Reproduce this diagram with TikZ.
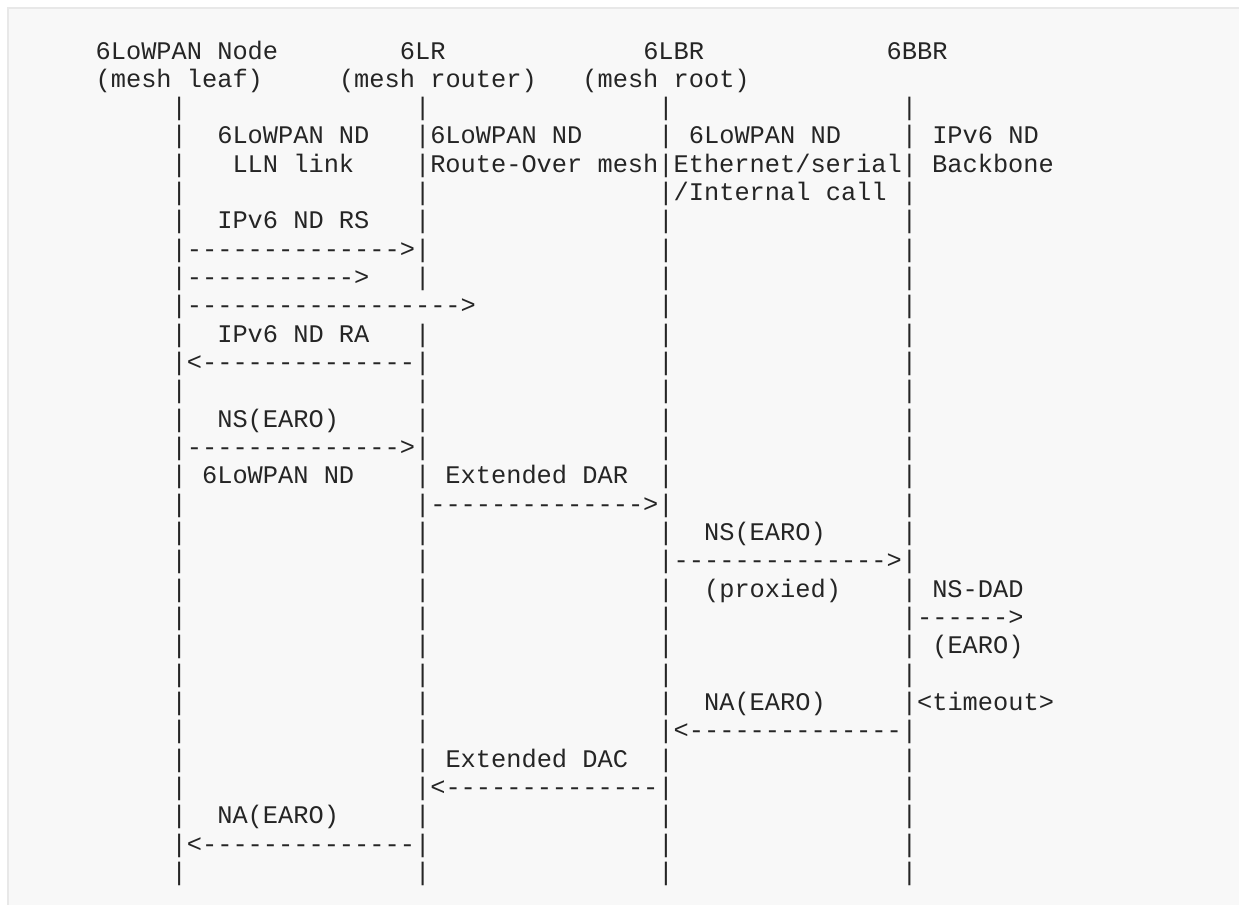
\documentclass[tikz,border=0pt]{standalone}
\usepackage{fontspec}
\setmonofont{Liberation Mono}
\ExplSyntaxOn
\cs_new_protected:Npn \gp #1 { \prg_replicate:nn {#1} { \nobreakspace } }
\ExplSyntaxOff
\definecolor{ink}{HTML}{252525}
\definecolor{boxbg}{HTML}{F8F8F8}
\definecolor{boxline}{HTML}{E8E8E8}
\tikzset{
  arow/.style={anchor=base west, inner sep=0pt, outer sep=0pt, text=ink,
    font=\ttfamily\fontsize{25.35pt}{28.33pt}\selectfont},
}
\newcommand\R[3]{\node[arow] (r#1) at ({50+15.21*#2}, {59+28.33*#1}) {#3};}
\begin{document}
\begin{tikzpicture}[x=1pt,y=-1pt]
\useasboundingbox (0,0) rectangle (1239,905);
\fill[white] (0,0) rectangle (1239,905);
\fill[boxbg] (8,8) rectangle (1239,905);
\draw[boxline, line width=2pt] (8,905) -- (8,8) -- (1239,8);
\R{0}{3}{6LoWPAN Node\gp{8}6LR\gp{13}6LBR\gp{12}6BBR}
\R{1}{3}{(mesh leaf)\gp{5}(mesh router)\gp{3}(mesh root)}
\R{2}{8}{|\gp{15}|\gp{15}|\gp{15}|}
\R{3}{8}{|\gp{2}6LoWPAN ND\gp{3}|6LoWPAN ND\gp{5}|\gp{1}6LoWPAN ND\gp{4}|\gp{1}IPv6 ND}
\R{4}{8}{|\gp{3}LLN link\gp{4}|Route-Over mesh|Ethernet/serial|\gp{1}Backbone}
\R{5}{8}{|\gp{15}|\gp{15}|/Internal call\gp{1}|}
\R{6}{8}{|\gp{2}IPv6 ND RS\gp{3}|\gp{15}|\gp{15}|}
\R{7}{8}{|-------------->|\gp{15}|\gp{15}|}
\R{8}{8}{|----------->\gp{3}|\gp{15}|\gp{15}|}
\R{9}{8}{|------------------>\gp{12}|\gp{15}|}
\R{10}{8}{|\gp{2}IPv6 ND RA\gp{3}|\gp{15}|\gp{15}|}
\R{11}{8}{|<--------------|\gp{15}|\gp{15}|}
\R{12}{8}{|\gp{15}|\gp{15}|\gp{15}|}
\R{13}{8}{|\gp{2}NS(EARO)\gp{5}|\gp{15}|\gp{15}|}
\R{14}{8}{|-------------->|\gp{15}|\gp{15}|}
\R{15}{8}{|\gp{1}6LoWPAN ND\gp{4}|\gp{1}Extended DAR\gp{2}|\gp{15}|}
\R{16}{8}{|\gp{15}|-------------->|\gp{15}|}
\R{17}{8}{|\gp{15}|\gp{15}|\gp{2}NS(EARO)\gp{5}|}
\R{18}{8}{|\gp{15}|\gp{15}|-------------->|}
\R{19}{8}{|\gp{15}|\gp{15}|\gp{2}(proxied)\gp{4}|\gp{1}NS-DAD}
\R{20}{8}{|\gp{15}|\gp{15}|\gp{15}|------>}
\R{21}{8}{|\gp{15}|\gp{15}|\gp{15}|\gp{1}(EARO)}
\R{22}{8}{|\gp{15}|\gp{15}|\gp{15}|}
\R{23}{8}{|\gp{15}|\gp{15}|\gp{2}NA(EARO)\gp{5}|<timeout>}
\R{24}{8}{|\gp{15}|\gp{15}|<--------------|}
\R{25}{8}{|\gp{15}|\gp{1}Extended DAC\gp{2}|\gp{15}|}
\R{26}{8}{|\gp{15}|<--------------|\gp{15}|}
\R{27}{8}{|\gp{2}NA(EARO)\gp{5}|\gp{15}|\gp{15}|}
\R{28}{8}{|<--------------|\gp{15}|\gp{15}|}
\R{29}{8}{|\gp{15}|\gp{15}|\gp{15}|}
\end{tikzpicture}
\end{document}
